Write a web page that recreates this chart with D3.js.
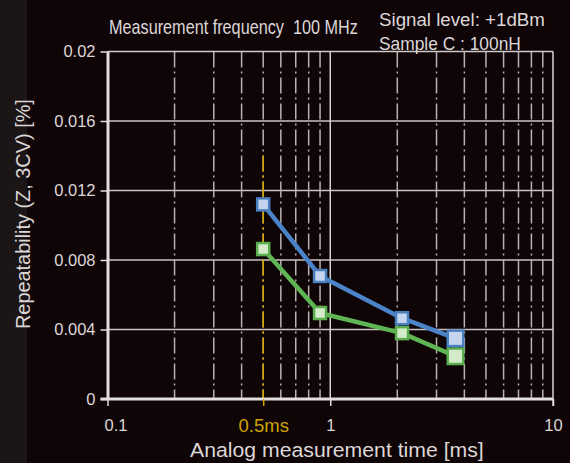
<!DOCTYPE html>
<html>
<head>
<meta charset="utf-8">
<script src="https://cdn.jsdelivr.net/npm/d3@7"></script>
<style>
html,body{margin:0;padding:0;background:#0f0406;}
svg{display:block;}
text{font-family:"Liberation Sans",Arial,Helvetica,sans-serif;}
</style>
</head>
<body>
<svg id="chart" width="570" height="463"></svg>
<script>
// ---- data ----
const timesMs = [0.5, 0.9, 2.1, 3.65];
const seriesBlue = [0.0112, 0.00708, 0.00465, 0.00349];
const seriesGreen = [0.00863, 0.00495, 0.00379, 0.00246];
const yTicks = [0, 0.004, 0.008, 0.012, 0.016, 0.02];
const yTickLabels = ["0", "0.004", "0.008", "0.012", "0.016", "0.02"];
const xTicks = [0.1, 0.5, 1, 10];
const xTickLabels = ["0.1", "0.5ms", "1", "10"];
const minorX = [0.2,0.3,0.4,0.5,0.6,0.7,0.8,0.9,2,3,4,5,6,7,8,9];
const highlightX = 0.5;
const titleText = "Measurement frequency\u00a0\u00a0100 MHz";
const noteLines = ["Signal level: +1dBm", "Sample C : 100nH"];
const xTitle = "Analog measurement time [ms]";
const yTitle = "Repeatability (Z, 3CV) [%]";

// ---- layout ----
const W = 570, H = 463;
const pLeft = 107.5, pRight = 553, pTop = 51.5, pBottom = 399;
const svg = d3.select("#chart");
const textCol = "#dcd7d7";
const gold = "#d2a400";

svg.append("rect").attr("x",0).attr("y",0).attr("width",W).attr("height",H).attr("fill","#0f0406");
svg.append("rect").attr("x",0).attr("y",0).attr("width",27).attr("height",H).attr("fill","#1b1516");

const x = d3.scaleLog().domain([0.1, 10]).range([pLeft, pRight]);
const y = d3.scaleLinear().domain([0, 0.02]).range([pBottom, pTop]);

// horizontal grid
svg.append("g").selectAll("line").data(yTicks.filter(v => v > 0 && v < 0.02)).join("line")
  .attr("x1", pLeft).attr("x2", pRight)
  .attr("y1", d => y(d)).attr("y2", d => y(d))
  .attr("stroke", "#c9c3c3").attr("stroke-width", 1.5);

// minor vertical grid (dash-dot)
svg.append("g").selectAll("line").data(minorX).join("line")
  .attr("x1", d => x(d)).attr("x2", d => x(d))
  .attr("y1", pTop).attr("y2", pBottom)
  .attr("stroke", "#b9b2b2")
  .attr("stroke-width", 1.5)
  .attr("stroke-dasharray", "16,4,2,4");

// gold highlight segment at 0.5 (lower part)
svg.append("line").attr("x1", x(highlightX)).attr("x2", x(highlightX))
  .attr("y1", pTop + 4 * 26).attr("y2", pBottom)
  .attr("stroke", gold).attr("stroke-width", 1.6).attr("stroke-dasharray", "16,4,2,4");

// major vertical at 1
svg.append("line").attr("x1", x(1)).attr("x2", x(1)).attr("y1", pTop).attr("y2", pBottom)
  .attr("stroke", "#d8d3d3").attr("stroke-width", 1.5);

// top & right borders
svg.append("line").attr("x1", pLeft).attr("x2", pRight).attr("y1", pTop).attr("y2", pTop)
  .attr("stroke", "#d0cbcb").attr("stroke-width", 1.5);
svg.append("line").attr("x1", pRight).attr("x2", pRight).attr("y1", pTop).attr("y2", pBottom + 7)
  .attr("stroke", "#d8d3d3").attr("stroke-width", 1.5);

// y axis
const yAxis = d3.axisLeft(y).tickValues(yTicks)
  .tickFormat((d, i) => yTickLabels[i]).tickSize(7).tickPadding(5).tickSizeOuter(0);
const gy = svg.append("g").attr("transform", `translate(${pLeft},0)`).call(yAxis);
gy.select(".domain").attr("stroke", "#e2dede").attr("stroke-width", 3);
gy.selectAll(".tick line").attr("stroke", "#e2dede").attr("stroke-width", 1.5);
gy.selectAll(".tick text").attr("fill", textCol).attr("font-size", 16.5);

// x axis
const xAxis = d3.axisBottom(x).tickValues(xTicks)
  .tickFormat((d, i) => xTickLabels[i]).tickSize(7).tickPadding(13).tickSizeOuter(0);
const gx = svg.append("g").attr("transform", `translate(0,${pBottom})`).call(xAxis);
gx.select(".domain").attr("stroke", "#e2dede").attr("stroke-width", 3)
  .attr("d", `M${pLeft - 7},0H${pRight}`);
gx.selectAll(".tick line").attr("stroke", d => d === highlightX ? gold : "#e2dede").attr("stroke-width", 1.5);
gx.selectAll(".tick text").attr("fill", d => d === highlightX ? gold : textCol)
  .attr("font-size", d => d === highlightX ? 18.5 : 16.5)
  .attr("dx", d => d === 0.1 ? 8 : 0);

// series lines
const line = d3.line().x((d, i) => x(timesMs[i])).y(d => y(d));
const series = [
  {vals: seriesGreen, stroke: "#5fb553", fill: "#d3ebc8", edge: "#5aae4e"},
  {vals: seriesBlue, stroke: "#4a83c8", fill: "#c6d4ef", edge: "#4a7fc0"}
];
series.forEach(s => {
  svg.append("path").datum(s.vals).attr("d", line)
    .attr("fill", "none").attr("stroke", s.stroke).attr("stroke-width", 4.5)
    .attr("stroke-linejoin", "round");
});
series.forEach(s => {
  svg.append("g").selectAll("rect").data(s.vals).join("rect")
    .each(function(d, i) {
      const sz = i === s.vals.length - 1 ? 15.5 : 12;
      d3.select(this)
        .attr("x", x(timesMs[i]) - sz / 2).attr("y", y(d) - sz / 2)
        .attr("width", sz).attr("height", sz);
    })
    .attr("fill", s.fill).attr("stroke", s.edge).attr("stroke-width", 2.5);
});

// texts: fitted to target width via horizontal scaling
function fitText(str, tx, ty, size, width, rot) {
  const g = svg.append("g");
  const t = g.append("text").attr("fill", textCol).attr("font-size", size).text(str);
  const natural = t.node().getComputedTextLength();
  const sx = natural > 0 ? width / natural : 1;
  g.attr("transform", `translate(${tx},${ty})` + (rot ? ` rotate(${rot})` : "") + ` scale(${sx},1)`);
  return g;
}
fitText(titleText, 109, 34, 20, 249);
fitText(noteLines[0], 379, 26, 17.5, 166);
fitText(noteLines[1], 379, 50, 17.5, 142);
fitText(xTitle, 190, 457, 20.5, 294);
fitText(yTitle, 30, 329, 20, 230, -90);
</script>
</body>
</html>
